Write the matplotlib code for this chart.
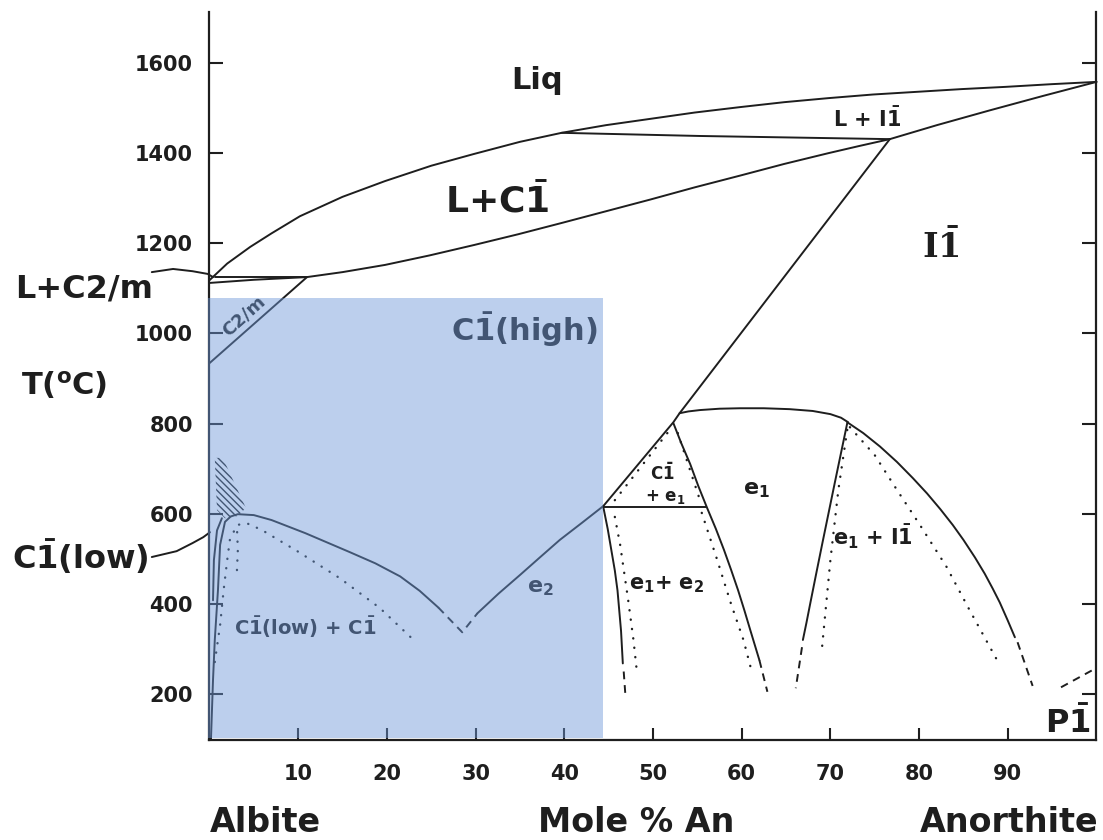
import matplotlib
matplotlib.use('Agg')
import matplotlib.pyplot as plt
from matplotlib.patches import Polygon, Rectangle

plt.rcParams['font.family'] = ['DejaVu Sans']
plt.rcParams['font.weight'] = 'bold'
plt.rcParams['mathtext.fontset'] = 'dejavusans'
plt.rcParams['mathtext.default'] = 'bf'
plt.rcParams['hatch.linewidth'] = 1.0

INK = '#1e1e1e'

# ---- phase boundaries (X = mole % An, T = deg C) ----
liq_x = [0, 2.0, 4.6, 7.0, 10.2, 15.0, 19.8, 25.0, 29.8, 35.0, 39.7,
         44.7, 49.7, 54.7, 59.8, 64.8, 69.8, 74.8, 79.8, 84.8, 89.8, 95.0, 100]
liq_t = [1118, 1155, 1192, 1222, 1260, 1303, 1338, 1372, 1398, 1425, 1445,
         1462, 1476, 1490, 1502, 1513, 1522, 1530, 1536, 1542, 1547, 1553,
         1558]

peri_x = [39.7, 55.3, 76.7]          # L + I1 lower boundary
peri_t = [1445, 1438, 1431]

i1sol_x = [76.7, 82.0, 88.0, 94.0, 100]
i1sol_t = [1431, 1462, 1495, 1527, 1558]

c1sol_x = [11.0, 15.0, 19.8, 24.8, 29.8, 34.8, 39.7, 44.7, 49.7, 54.7,
           59.8, 64.8, 69.8, 73.3, 76.7]
c1sol_t = [1125, 1136, 1152, 1173, 1196, 1220, 1245, 1271, 1297, 1324,
           1350, 1376, 1400, 1416, 1431]

c2m_top_x = [0.6, 11.0]
c2m_top_t = [1125, 1125]
c2m_sol_x = [0, 5.0, 11.0]
c2m_sol_t = [1112, 1119, 1125]
c2m_c1_x = [11.0, 0]
c2m_c1_t = [1125, 934]

# I1 / C1 boundary continuing down to the e2 apex
i1c1_x = [76.7, 53.0, 52.3, 44.4]
i1c1_t = [1431, 823, 803, 617]

# e1 dome
dome_x = [53.0, 54.0, 55.3, 57.5, 59.8, 62.5, 65.4, 68.0, 70.0, 71.2, 72.0]
dome_t = [823, 827, 830, 833, 834, 834, 832, 828, 821, 813, 803]

tri_base_x = [44.4, 56.0]
tri_base_t = [615, 615]

# albite-side solvus (C1 low + C1)
low_x = [0.17, 0.4, 0.6, 0.96, 1.2, 1.75, 2.4, 3.2, 5.0, 7.0, 10.8, 15.8,
         18.7, 21.5, 23.7, 25.8]
low_t = [100, 231, 320, 431, 531, 582, 594, 599, 597, 586, 557, 515,
         490, 461, 429, 392]
low2_x = [0.4, 0.5, 0.85, 1.4]
low2_t = [408, 497, 563, 590]
low_dash_x = [25.8, 28.5, 30.2]
low_dash_t = [392, 337, 379]
e2r_x = [30.2, 32.6, 35.0, 37.3, 39.5, 42.0, 44.4]
e2r_t = [379, 423, 464, 504, 542, 580, 617]

lowdot_x = [0.6, 1.2, 1.6, 2.0, 2.3, 3.1, 4.2, 5.9, 9.9, 14.7, 19.2, 22.8]
lowdot_t = [271, 353, 431, 497, 542, 575, 579, 564, 517, 457, 391, 324]
lowdot2_x = [3.1, 3.2, 3.1]
lowdot2_t = [475, 520, 569]

hatch_x = [0.6, 1.5, 4.1, 3.2, 1.75, 0.85]
hatch_t = [724, 724, 613, 595, 590, 608]

# e1 + e2 field
e12l_x = [44.4, 44.9, 45.3, 45.7, 46.0, 46.2, 46.4, 46.6]
e12l_t = [615, 566, 520, 474, 430, 385, 340, 268]
e12l_dash_x = [46.7, 46.9]
e12l_dash_t = [250, 195]
e12r_x = [52.3, 53.2, 54.2, 55.1, 56.1, 57.1, 58.0, 58.8, 59.6, 60.3,
          61.0, 62.0]
e12r_t = [801, 756, 710, 662, 613, 566, 520, 476, 430, 386, 340, 275]
e12r_dash_x = [62.0, 62.9]
e12r_dash_t = [275, 205]
e12ldot_x = [45.7, 46.3, 47.2, 47.8, 48.2]
e12ldot_t = [593, 531, 409, 320, 247]
e12rdot_x = [55.5, 57.2, 58.8, 60.2, 61.0]
e12rdot_t = [602, 500, 400, 320, 260]
tridot_l_x = [45.7, 51.9]
tridot_l_t = [630, 786]
tridot_r_x = [52.8, 55.3]
tridot_r_t = [779, 630]

# e1 + I1 field
e1il_x = [71.9, 71.2, 70.5, 69.8, 69.1, 68.4, 67.7, 67.3, 66.9]
e1il_t = [801, 735, 669, 602, 535, 467, 398, 358, 320]
e1il_dash_x = [66.8, 66.1]
e1il_dash_t = [304, 213]
e1ildot_x = [71.9, 70.9, 70.0, 69.0]
e1ildot_t = [786, 653, 497, 291]
e1ir_x = [71.9, 73.7, 75.6, 77.5, 79.3, 80.9, 82.4, 83.8, 85.0, 86.3,
          87.4, 88.3, 89.1, 90.0, 90.8]
e1ir_t = [803, 779, 749, 715, 679, 645, 610, 575, 542, 503, 467, 434,
          403, 363, 326]
e1ir_dash_x = [91.1, 92.8]
e1ir_dash_t = [315, 218]
e1irdot_x = [72.2, 75.0, 77.5, 80.1, 83.1, 85.7, 88.8]
e1irdot_t = [792, 730, 653, 575, 482, 386, 275]

p1_dash_x = [96.0, 100]
p1_dash_t = [215, 258]

# leader lines to outside labels
lead_c2m_x = [-6.5, -4.1, -1.9, -0.2, 0.4]
lead_c2m_t = [1136, 1143, 1138, 1132, 1125]
lead_low_x = [-6.5, -3.7, -1.9, -0.7, 0.06]
lead_low_t = [504, 517, 535, 548, 559]

# highlighted box
box_x0, box_x1 = -0.2, 44.4
box_t0, box_t1 = 102, 1079

y_ticks = [200, 400, 600, 800, 1000, 1200, 1400, 1600]
x_ticks = [10, 20, 30, 40, 50, 60, 70, 80, 90]

fig = plt.figure(figsize=(11.03, 8.40), dpi=100)
ax = fig.add_axes([0.1899, 0.119, 0.8042, 0.8667])
ax.set_xlim(0, 100)
ax.set_ylim(98, 1713)


def solid(x, t):
    ax.plot(x, t, color=INK, lw=1.4, solid_capstyle='round',
            solid_joinstyle='round', clip_on=False)


def dashed(x, t):
    ax.plot(x, t, color=INK, lw=1.4, ls=(0, (4, 3)), clip_on=False)


def dotted(x, t):
    ax.plot(x, t, color=INK, lw=1.7, ls=(0, (0.1, 3.9)),
            dash_capstyle='round', clip_on=False)


for xs, ts in [(liq_x, liq_t), (peri_x, peri_t), (i1sol_x, i1sol_t),
               (c1sol_x, c1sol_t), (c2m_top_x, c2m_top_t),
               (c2m_sol_x, c2m_sol_t), (c2m_c1_x, c2m_c1_t),
               (i1c1_x, i1c1_t), (dome_x, dome_t),
               (tri_base_x, tri_base_t), (low_x, low_t), (low2_x, low2_t),
               (e2r_x, e2r_t), (e12l_x, e12l_t), (e12r_x, e12r_t),
               (e1il_x, e1il_t), (e1ir_x, e1ir_t),
               (lead_c2m_x, lead_c2m_t), (lead_low_x, lead_low_t)]:
    solid(xs, ts)

for xs, ts in [(low_dash_x, low_dash_t), (e12l_dash_x, e12l_dash_t),
               (e12r_dash_x, e12r_dash_t), (e1il_dash_x, e1il_dash_t),
               (e1ir_dash_x, e1ir_dash_t), (p1_dash_x, p1_dash_t)]:
    dashed(xs, ts)

for xs, ts in [(lowdot_x, lowdot_t), (lowdot2_x, lowdot2_t),
               (e12ldot_x, e12ldot_t), (e12rdot_x, e12rdot_t),
               (tridot_l_x, tridot_l_t), (tridot_r_x, tridot_r_t),
               (e1ildot_x, e1ildot_t), (e1irdot_x, e1irdot_t)]:
    dotted(xs, ts)

ax.add_patch(Polygon(list(zip(hatch_x, hatch_t)), closed=True,
                     facecolor='none', edgecolor=INK, lw=0,
                     hatch='\\\\\\\\\\'))

# field labels
ax.text(36.9, 1542, 'Liq', fontsize=22, ha='center', va='baseline', color=INK)
ax.text(74.1, 1458, r'L + I$\bar{1}$', fontsize=15, ha='center',
        va='baseline', color=INK)
ax.text(32.4, 1269, r'L+C$\bar{1}$', fontsize=26, ha='center',
        va='baseline', color=INK)
ax.text(82.4, 1167, r'$\mathrm{I\bar{1}}$', fontsize=24, ha='center',
        va='baseline', color=INK, math_fontfamily='dejavuserif')
ax.text(35.5, 983, r'C$\bar{1}$(high)', fontsize=22, ha='center',
        va='baseline', color=INK)
ax.text(3.9, 1039, 'C2/m', fontsize=13, ha='center', va='center',
        rotation=42, color=INK)
ax.text(10.8, 349, r'C$\bar{1}$(low) + C$\bar{1}$', fontsize=14,
        ha='center', va='center', color=INK)
ax.text(37.3, 435, r'e$_2$', fontsize=16, ha='center', va='center', color=INK)
ax.text(51.0, 690, r'C$\bar{1}$', fontsize=12, ha='center', va='center',
        color=INK)
ax.text(51.4, 637, r'+ e$_1$', fontsize=12, ha='center', va='center',
        color=INK)
ax.text(61.7, 653, r'e$_1$', fontsize=16, ha='center', va='center', color=INK)
ax.text(51.5, 442, r'e$_1$+ e$_2$', fontsize=15, ha='center', va='center',
        color=INK)
ax.text(74.8, 548, r'e$_1$ + I$\bar{1}$', fontsize=15, ha='center',
        va='center', color=INK)
ax.text(96.8, 113, r'P$\bar{1}$', fontsize=23, ha='center', va='baseline',
        color=INK)

# labels outside the frame
ax.text(-14.1, 1079, 'L+C2/m', fontsize=23, ha='center', va='baseline',
        color=INK)
ax.text(-16.4, 886, r'T($\mathregular{^o}$C)', fontsize=22, ha='center',
        va='center', color=INK)
ax.text(-14.5, 506, r'C$\bar{1}$(low)', fontsize=23, ha='center',
        va='center', color=INK)
ax.text(6.3, -84, 'Albite', fontsize=24, ha='center', va='center', color=INK)
ax.text(48.1, -84, 'Mole % An', fontsize=24, ha='center', va='center',
        color=INK)
ax.text(90.2, -84, 'Anorthite', fontsize=24, ha='center', va='center',
        color=INK)

# frame
ax.spines['top'].set_visible(False)
for side in ['left', 'right', 'bottom']:
    ax.spines[side].set_linewidth(1.6)
    ax.spines[side].set_color(INK)
ax.set_yticks(y_ticks)
ax.set_xticks(x_ticks)
ax.tick_params(axis='y', direction='in', length=10, width=1.5, right=True,
               labelright=False, labelsize=15, pad=12, colors=INK)
ax.tick_params(axis='x', direction='in', length=9, width=1.5,
               labelsize=15, pad=17, colors=INK)

# translucent blue highlight on top of everything
ax.add_patch(Rectangle((box_x0, box_t0), box_x1 - box_x0, box_t1 - box_t0,
                       facecolor='#6d98d9', alpha=0.46, lw=0, zorder=10,
                       clip_on=False))

fig.savefig('out.png', dpi=100)
